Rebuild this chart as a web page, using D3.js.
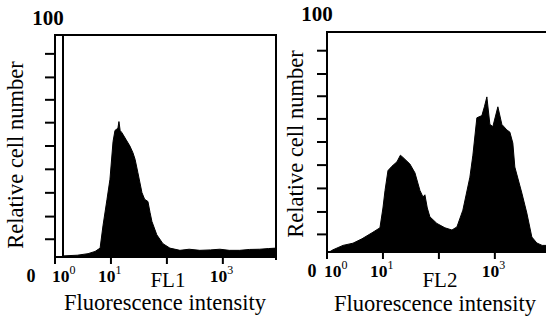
<!DOCTYPE html>
<html><head><meta charset="utf-8">
<script src="https://cdn.jsdelivr.net/npm/d3@7"></script>
<style>
body{margin:0;background:#fff}
svg{display:block}
text{font-family:"Liberation Serif","Times New Roman",serif;fill:#000}
</style>
</head><body>
<svg id="c" width="546" height="321"></svg>
<script>
// ---- data ----
const fl1Intensity = [1.39, 2.5, 3.9, 5.2, 6.4, 7.2, 8.5, 9.6, 10.9, 11.8, 13.3, 13.9, 14.6, 15.7, 18.5, 21.8, 24.7, 27, 30.3, 35.8, 40, 45.8, 50, 54, 66, 85, 113, 171, 250, 388, 600, 884, 1300, 2000, 3000, 4560, 6500, 8913];
const fl1Counts    = [0.5, 0.8, 1.5, 2.5, 4, 14, 26, 35, 52, 57, 58, 61, 57, 56, 53, 50, 47, 44, 38, 29, 26, 25, 20, 16, 10, 6, 4, 3, 3.5, 3, 3.2, 3.5, 3, 3, 3.4, 3.5, 3.8, 4];
const fl2Intensity = [1.1, 1.28, 1.93, 2.91, 4.22, 6.63, 8.84, 10, 10.9, 12.3, 14.5, 17.8, 20.5, 22.8, 30.3, 37.3, 45.8, 52, 56.2, 62, 69, 92, 128, 171, 210, 268, 358, 405, 450, 477, 586, 650, 720, 815, 921, 1132, 1334, 1638, 1853, 2096, 2276, 3036, 3728, 4582, 5623, 7000, 8913];
const fl2Counts    = [0, 1, 3, 4, 6, 9, 11, 20, 28, 37, 39, 41, 44, 43, 40, 36, 28, 25, 26, 20, 16, 13, 11, 10, 11.4, 19, 34, 44, 55, 61, 62, 66, 70.5, 58, 57, 66, 58, 55.5, 54.5, 49.5, 38.6, 26.8, 17.7, 6.8, 4.1, 3, 3];
const fl1GateIntensity = 1.39;
const yTickValues = [8, 18.2, 28.9, 39.5, 50, 60.5, 70.8, 80.9, 91.5];
const xTickExponents = [0, 1, 2, 3];
const xLabelExponents = [0, 1, 3];
const channelNames = ["FL1", "FL2"];
const xTitle = "Fluorescence intensity";
const yTitle = "Relative cell number";
const yMaxLabel = "100";
const zeroLabel = "0";

// ---- layout ----
const panels = [
  {name: channelNames[0], xs: fl1Intensity, ys: fl1Counts, left: 55, right: 276, top: 35, bottom: 257,
   frameRight: true, gate: fl1GateIntensity, zeroX: 31, maxX: 48, maxY: 25, yTitleX: 23, yTitleY: 155,
   tickLabelY: 282, flY: 287, titleY: 310, titleX: 165},
  {name: channelNames[1], xs: fl2Intensity, ys: fl2Counts, left: 327, right: 548, top: 32, bottom: 252,
   frameRight: false, gate: null, zeroX: 312, maxX: 317, maxY: 21, yTitleX: 303, yTitleY: 144,
   tickLabelY: 277, flY: 287, titleY: 311, titleX: 435}
];

const svg = d3.select("#c");

panels.forEach((p, i) => {
  const x = d3.scaleLog().domain([1, Math.pow(10, 3.95)]).range([p.left, p.right]);
  const y = d3.scaleLinear().domain([0, 100]).range([p.bottom, p.top]);
  const g = svg.append("g");

  const clipId = "clip" + i;
  svg.append("clipPath").attr("id", clipId).append("rect")
    .attr("x", p.left).attr("y", p.top).attr("width", p.right - p.left).attr("height", p.bottom - p.top);

  const data = p.xs.map((v, k) => ({v, c: p.ys[k]}));
  const area = d3.area().x(d => x(d.v)).y0(y(0)).y1(d => y(d.c)).curve(d3.curveLinear);
  g.append("path").datum(data).attr("d", area).attr("fill", "#000")
    .attr("stroke", "#000").attr("stroke-width", 1).attr("clip-path", `url(#${clipId})`);

  const line = (x1, y1, x2, y2, w) => g.append("line").attr("x1", x1).attr("y1", y1).attr("x2", x2).attr("y2", y2)
      .attr("stroke", "#000").attr("stroke-width", w);
  line(p.left, p.top, p.right, p.top, 2);
  line(p.left, p.top - 1, p.left, p.bottom + 7, 2);
  line(p.left, p.bottom, p.right, p.bottom, 2);
  if (p.frameRight) line(p.right, p.top - 1, p.right, p.bottom + 3, 2);
  if (p.gate) line(x(p.gate), p.top, x(p.gate), p.bottom, 2);

  yTickValues.forEach(t => line(p.left - 10, y(t), p.left, y(t), 2));
  xTickExponents.forEach(e => line(x(Math.pow(10, e)), p.bottom, x(Math.pow(10, e)), p.bottom + 7, 2));

  xLabelExponents.forEach(e => {
    const tx = x(Math.pow(10, e)) + (e === 0 ? -3 : -13);
    const t = g.append("text").attr("x", tx).attr("y", p.tickLabelY).attr("font-size", 17.5).attr("font-weight", "bold");
    t.append("tspan").text("10");
    t.append("tspan").attr("dy", -8).attr("font-size", 12).attr("font-weight", "normal").text(String(e));
  });
  g.append("text").attr("x", p.zeroX).attr("y", p.tickLabelY).attr("text-anchor", "middle")
    .attr("font-size", 18).attr("font-weight", "bold").text(zeroLabel);
  g.append("text").attr("x", p.maxX).attr("y", p.maxY).attr("text-anchor", "middle")
    .attr("font-size", 21).attr("font-weight", "bold").text(yMaxLabel);

  g.append("text").attr("x", x(100) + 1).attr("y", p.flY).attr("text-anchor", "middle")
    .attr("font-size", 21).text(p.name);
  g.append("text").attr("x", p.titleX).attr("y", p.titleY)
    .attr("text-anchor", "middle").attr("font-size", 22.5).text(xTitle);
  g.append("text").attr("transform", `translate(${p.yTitleX},${p.yTitleY}) rotate(-90)`)
    .attr("text-anchor", "middle").attr("font-size", 22.5).text(yTitle);
});
</script>
</body></html>
